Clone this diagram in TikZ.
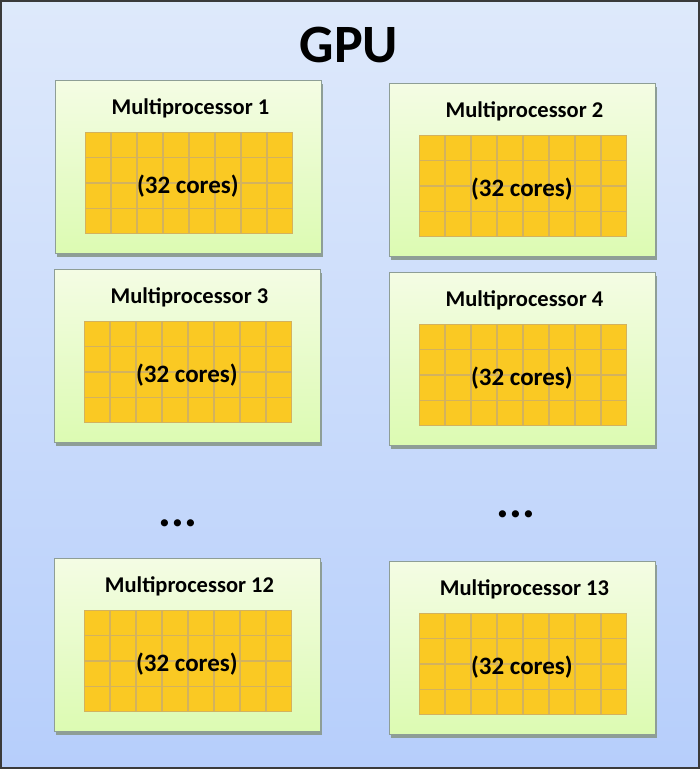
\documentclass[tikz,border=0pt]{standalone}
\usepackage{fontspec}
\setmainfont{Carlito}
\usetikzlibrary{positioning,calc,shadows}

\definecolor{gpubgtop}{HTML}{DEE9FB}
\definecolor{gpubgbot}{HTML}{B6CEFB}
\definecolor{gpuedge}{HTML}{3A3A3A}
\definecolor{mptop}{HTML}{F4FCE4}
\definecolor{mpbot}{HTML}{DCFBB2}
\definecolor{mpedge}{HTML}{8E9E96}
\definecolor{corefill}{HTML}{FAC923}
\definecolor{coreedge}{HTML}{D3B25E}

\begin{document}
\begin{tikzpicture}[x=1pt, y=-1pt, every node/.style={font=\bfseries},
  mpbox/.style={draw=mpedge, line width=1pt, top color=mptop, bottom color=mpbot,
    minimum width=266pt, minimum height=173pt, anchor=north west, inner sep=0pt,
    drop shadow={shadow xshift=1.5pt, shadow yshift=-3pt, fill=mpedge, opacity=1}},
  mptitle/.style={anchor=base, font=\fontsize{22.5}{26}\selectfont\bfseries},
  coregrid/.style={draw=coreedge, line width=0.8pt, fill=corefill,
    minimum width=207pt, minimum height=101pt, anchor=north west, inner sep=0pt},
  coresep/.style={draw=coreedge, line width=1.6pt},
  corelabel/.style={anchor=base, font=\fontsize{25}{28}\selectfont\bfseries},
  moredots/.style={anchor=base, font=\fontsize{48}{50}\selectfont\bfseries}]
  \useasboundingbox (0,0) rectangle (700,769);

  % gpu frame
  \shade[top color=gpubgtop, bottom color=gpubgbot] (0,0) rectangle (700,769);
  \draw[gpuedge, line width=2pt] (1,1) rectangle (699,768);
  \node[anchor=base, font=\fontsize{54}{60}\selectfont\bfseries] (gpu) at (349,62) {GPU};

  % multiprocessors
  \foreach \n/\x/\y in {1/55/80, 2/389/83, 3/54/269, 4/389/272, 12/54/558, 13/389/561} {
    \node[mpbox] (mp\n) at (\x,\y) {};
    \node[mptitle] (mp\n title) at ($(mp\n.north)+(2,34)$) {Multiprocessor \n};
    \node[coregrid] (mp\n grid) at ($(mp\n.north west)+(30,52)$) {};
    \foreach \i in {1,...,7}
      \draw[coresep] ($(mp\n grid.north west)!\i/8!(mp\n grid.north east)$)
        -- ($(mp\n grid.south west)!\i/8!(mp\n grid.south east)$);
    \foreach \j in {1,2,3}
      \draw[coresep] ($(mp\n grid.north west)!\j/4!(mp\n grid.south west)$)
        -- ($(mp\n grid.north east)!\j/4!(mp\n grid.south east)$);
    \node[corelabel] (mp\n cores) at ($(mp\n grid.north)+(-1,61)$) {(32 cores)};
  }

  % more multiprocessors
  \node[moredots] (dotsleft) at (178,526) {...};
  \node[moredots] (dotsright) at (516,517) {...};
\end{tikzpicture}
\end{document}
